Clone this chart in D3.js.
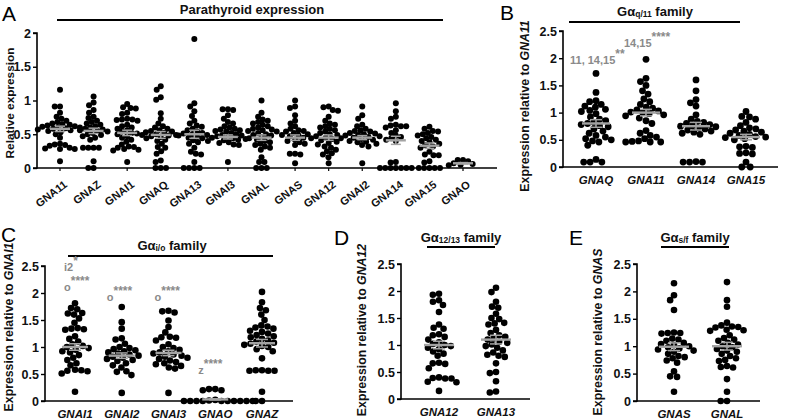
<!DOCTYPE html>
<html><head><meta charset="utf-8">
<script src="https://cdn.jsdelivr.net/npm/d3@7"></script>
<style>body{margin:0;background:#fff}svg{display:block}text{font-family:"Liberation Sans",Arial,sans-serif}</style>
</head><body><svg id="c" width="787" height="420"></svg>
<script>
// ---------------- DATA ----------------
const catsA = ["GNA11","GNAZ","GNAI1","GNAQ","GNA13","GNAI3","GNAL","GNAS","GNA12","GNAI2","GNA14","GNA15","GNAO"];
const valuesA = [
 [1.16,0.91,0.91,0.82,0.76,0.73,0.70,0.68,0.66,0.65,0.64,0.63,0.62,0.61,0.60,0.60,0.59,0.58,0.57,0.56,0.55,0.53,0.50,0.45,0.36,0.35,0.34,0.33,0.30,0.29,0.28,0.28,0.10],
 [1.06,0.97,0.93,0.86,0.82,0.76,0.74,0.70,0.68,0.66,0.64,0.62,0.60,0.58,0.57,0.56,0.55,0.54,0.52,0.50,0.49,0.47,0.45,0.42,0.30,0.30,0.30,0.30,0.10,0.0,0.0],
 [0.95,0.90,0.89,0.88,0.82,0.80,0.73,0.72,0.72,0.71,0.70,0.64,0.62,0.60,0.58,0.56,0.54,0.52,0.51,0.50,0.49,0.47,0.45,0.42,0.39,0.35,0.32,0.31,0.30,0.28,0.27,0.26,0.09],
 [1.21,1.16,1.05,1.01,0.81,0.73,0.66,0.62,0.60,0.58,0.56,0.55,0.54,0.53,0.52,0.50,0.49,0.48,0.47,0.46,0.44,0.42,0.40,0.36,0.31,0.30,0.25,0.21,0.11,0.09,0.0,0.0,0.0],
 [1.91,0.96,0.91,0.84,0.77,0.70,0.66,0.63,0.61,0.58,0.56,0.54,0.52,0.51,0.50,0.49,0.48,0.46,0.45,0.44,0.41,0.38,0.36,0.30,0.24,0.21,0.20,0.09,0.0,0.0,0.0,0.0],
 [0.87,0.87,0.86,0.78,0.73,0.68,0.66,0.62,0.60,0.58,0.57,0.56,0.55,0.54,0.52,0.50,0.49,0.48,0.47,0.46,0.45,0.44,0.43,0.42,0.41,0.40,0.38,0.37,0.35,0.34,0.09],
 [1.0,0.82,0.76,0.72,0.70,0.68,0.66,0.64,0.62,0.60,0.58,0.57,0.56,0.55,0.54,0.52,0.50,0.49,0.48,0.46,0.44,0.42,0.40,0.38,0.36,0.34,0.32,0.30,0.27,0.16,0.09,0.09,0.0,0.0,0.0],
 [1.0,0.91,0.89,0.78,0.70,0.66,0.62,0.58,0.56,0.55,0.54,0.52,0.50,0.49,0.48,0.47,0.45,0.44,0.42,0.40,0.38,0.36,0.34,0.21,0.21,0.20,0.07],
 [0.91,0.90,0.86,0.85,0.76,0.70,0.66,0.64,0.62,0.60,0.58,0.56,0.54,0.52,0.50,0.49,0.47,0.45,0.43,0.41,0.39,0.37,0.35,0.32,0.30,0.27,0.25,0.22,0.20,0.16,0.07],
 [0.91,0.78,0.73,0.64,0.62,0.58,0.56,0.55,0.54,0.52,0.51,0.50,0.49,0.48,0.47,0.46,0.45,0.44,0.43,0.42,0.40,0.39,0.38,0.36,0.34,0.32,0.07],
 [0.96,0.84,0.76,0.73,0.64,0.63,0.62,0.62,0.60,0.56,0.52,0.48,0.46,0.44,0.42,0.40,0.09,0.08,0.0,0.0,0.0,0.0,0.0,0.0,0.0],
 [0.61,0.58,0.55,0.54,0.52,0.50,0.48,0.46,0.44,0.42,0.40,0.38,0.36,0.34,0.32,0.30,0.24,0.20,0.19,0.19,0.10,0.08,0.0,0.0,0.0,0.0,0.0],
 [0.12,0.12,0.10,0.07,0.06,0.05,0.04]
];
const meansA = [0.58,0.55,0.52,0.49,0.50,0.46,0.45,0.45,0.45,0.45,0.41,0.33,0.07];
const semsA  = [0.04,0.04,0.04,0.05,0.06,0.03,0.04,0.04,0.04,0.03,0.06,0.04,0.01];
const ticksA = [0,0.5,1,1.5,2];

const catsB = ["GNAQ","GNA11","GNA14","GNA15"];
const valuesB = [
 [1.72,1.37,1.22,1.20,1.15,1.12,1.10,1.06,1.04,1.02,0.98,0.92,0.88,0.85,0.82,0.80,0.78,0.76,0.74,0.70,0.66,0.62,0.58,0.55,0.52,0.50,0.48,0.46,0.40,0.14,0.09,0.09,0.09],
 [1.98,1.63,1.57,1.50,1.40,1.34,1.25,1.20,1.15,1.10,1.08,1.05,1.03,1.01,1.00,0.98,0.96,0.94,0.90,0.85,0.80,0.67,0.62,0.58,0.55,0.52,0.48,0.47,0.46,0.46,0.46],
 [1.60,1.40,1.24,1.18,1.12,0.96,0.88,0.84,0.82,0.80,0.78,0.76,0.75,0.74,0.72,0.70,0.68,0.66,0.64,0.62,0.60,0.09,0.09,0.09,0.10],
 [1.02,0.93,0.92,0.88,0.82,0.76,0.72,0.70,0.68,0.66,0.64,0.62,0.60,0.58,0.56,0.55,0.54,0.52,0.50,0.38,0.37,0.36,0.26,0.25,0.24,0.09,0.0,0.0]
];
const meansB = [0.80,1.00,0.75,0.55];
const semsB  = [0.07,0.06,0.07,0.05];
const ticksBCDE = [0,0.5,1,1.5,2,2.5];
const annotB = [["11, 14,15","**"],["14,15","****"]];

const catsC = ["GNAI1","GNAI2","GNAI3","GNAO","GNAZ"];
const valuesC = [
 [1.81,1.72,1.70,1.63,1.62,1.60,1.53,1.45,1.35,1.34,1.33,1.32,1.20,1.15,1.10,1.05,1.02,1.00,0.98,0.95,0.92,0.90,0.85,0.80,0.76,0.70,0.66,0.58,0.57,0.56,0.55,0.51,0.17],
 [1.74,1.46,1.34,1.16,1.14,1.06,1.00,0.98,0.96,0.94,0.92,0.90,0.88,0.86,0.84,0.82,0.80,0.78,0.76,0.74,0.70,0.66,0.62,0.55,0.54,0.48,0.15],
 [1.67,1.66,1.64,1.49,1.37,1.27,1.19,1.18,1.17,1.12,1.05,1.00,0.98,0.95,0.92,0.90,0.88,0.86,0.84,0.82,0.80,0.78,0.75,0.72,0.70,0.68,0.65,0.62,0.60,0.15],
 [0.22,0.20,0.20,0.22,0.02,0.01,0.0,0.0,0.0,0.0,0.0,0.0,0.0,0.0,0.0,0.0],
 [2.02,1.83,1.72,1.68,1.60,1.50,1.40,1.38,1.36,1.34,1.30,1.28,1.25,1.22,1.20,1.18,1.15,1.12,1.10,1.08,1.06,1.04,1.02,1.00,0.96,0.92,0.79,0.57,0.57,0.56,0.56,0.56,0.17,0.0,0.0]
];
const meansC = [1.00,0.84,0.89,0.03,1.07];
const semsC  = [0.06,0.05,0.05,0.01,0.07];
const annotC = [["i2","*"],["o","****"],["o","****"],["o","****"],["z","****"]];

const catsD = ["GNA12","GNA13"];
const valuesD = [
 [1.95,1.93,1.83,1.80,1.74,1.61,1.38,1.32,1.30,1.20,1.18,1.15,1.10,1.05,1.02,1.00,0.98,0.95,0.92,0.88,0.84,0.80,0.67,0.66,0.65,0.57,0.40,0.39,0.38,0.38,0.32,0.31,0.15],
 [2.06,1.98,1.80,1.71,1.69,1.58,1.50,1.48,1.41,1.40,1.38,1.28,1.22,1.18,1.15,1.12,1.10,1.06,1.04,1.01,0.98,0.95,0.90,0.86,0.82,0.80,0.78,0.66,0.50,0.48,0.33,0.14,0.12]
];
const meansD = [1.00,1.10];
const semsD  = [0.07,0.08];

const catsE = ["GNAS","GNAL"];
const valuesE = [
 [2.15,1.93,1.84,1.66,1.25,1.24,1.24,1.23,1.14,1.12,1.10,1.06,1.04,1.02,1.00,0.98,0.96,0.94,0.92,0.90,0.86,0.82,0.80,0.78,0.74,0.70,0.54,0.45,0.44,0.17],
 [2.17,1.84,1.72,1.43,1.38,1.36,1.35,1.34,1.30,1.29,1.28,1.20,1.15,1.12,1.10,1.06,1.03,1.00,0.98,0.95,0.92,0.90,0.86,0.82,0.78,0.75,0.73,0.64,0.62,0.61,0.40,0.17,0.0,0.0]
];
const meansE = [0.99,1.00];
const semsE  = [0.07,0.07];

// ---------------- DRAWING ----------------
const svg = d3.select("#c");
const FONT = '"Liberation Sans", Arial, sans-serif';

function swarm(vals, y, cx, d) {
  const pts = vals.map(v => ({v, y: y(v)}));
  const order = pts.slice().sort((a, b) => a.y - b.y);
  const placed = [];
  for (const p of order) {
    const iv = [];
    for (const q of placed) {
      const dy = Math.abs(q.y - p.y);
      if (dy < d) { const w = Math.sqrt(d*d - dy*dy); iv.push([q.dx - w, q.dx + w]); }
    }
    const cands = [0];
    iv.forEach(([a, b]) => cands.push(a, b));
    cands.sort((a, b) => Math.abs(a) - Math.abs(b) || a - b);
    let dx = 0;
    for (const c of cands) { if (!iv.some(([a, b]) => c > a + 1e-6 && c < b - 1e-6)) { dx = c; break; } }
    p.dx = dx; placed.push(p);
  }
  return pts.map(p => ({x: cx + p.dx, y: p.y}));
}

function panel(cfg) {
  const g = svg.append("g");
  const y = d3.scaleLinear().domain([0, cfg.ymax]).range([cfg.y0, cfg.y1]);
  const x = d3.scalePoint().domain(cfg.cats).range(cfg.xr);
  // y axis
  const ya = d3.axisLeft(y).tickValues(cfg.ticks).tickFormat(d => String(d)).tickSize(4).tickPadding(2);
  const yg = g.append("g").attr("transform", `translate(${cfg.ax},0)`).call(ya);
  yg.attr("font-family", FONT);
  yg.select(".domain").attr("stroke", "#000").attr("stroke-width", 1.6).attr("d", `M-4,${cfg.y0}H0V${cfg.y1}H-4`);
  yg.selectAll(".tick line").attr("stroke", "#000").attr("stroke-width", 1.4);
  yg.selectAll(".tick text").attr("font-family", FONT).attr("font-weight", "bold").attr("font-size", 12.5).attr("fill", "#111");
  // x axis
  g.append("line").attr("x1", cfg.ax).attr("x2", cfg.axEnd).attr("y1", cfg.y0).attr("y2", cfg.y0)
    .attr("stroke", "#000").attr("stroke-width", 1.6);
  if (cfg.rotLabels) {
    cfg.cats.forEach(c => {
      g.append("line").attr("x1", x(c)).attr("x2", x(c)).attr("y1", cfg.y0).attr("y2", cfg.y0 + 3).attr("stroke", "#000").attr("stroke-width", 1.2);
      g.append("g").attr("transform", `translate(${x(c) + 8},${cfg.y0 + 18})`)
        .append("g").attr("transform", "rotate(-37)")
        .append("text").attr("x", 0).attr("y", 0)
        .attr("text-anchor", "end").attr("font-weight", "bold").attr("font-size", 11).attr("fill", "#111").text(c);
    });
  } else {
    cfg.cats.forEach(c => {
      g.append("text").attr("x", x(c)).attr("y", cfg.y0 + 17).attr("text-anchor", "middle")
        .attr("font-weight", "bold").attr("font-style", "italic").attr("font-size", 11.5).attr("fill", "#111").text(c);
    });
  }
  // dots
  cfg.cats.forEach((c, i) => {
    const pts = swarm(cfg.values[i], y, x(c), cfg.r * 2 * cfg.pack);
    g.append("g").selectAll("circle").data(pts).join("circle")
      .attr("cx", d => d.x).attr("cy", d => d.y).attr("r", cfg.r).attr("fill", "#000");
  });
  // mean + sem
  cfg.cats.forEach((c, i) => {
    const m = cfg.means[i], s = cfg.sems[i], cx = x(c);
    const mg = g.append("g").attr("stroke", "#a3a3a3");
    mg.append("line").attr("x1", cx - cfg.mw/2).attr("x2", cx + cfg.mw/2).attr("y1", y(m)).attr("y2", y(m)).attr("stroke-width", 2.4);
    mg.append("line").attr("x1", cx).attr("x2", cx).attr("y1", y(m + s)).attr("y2", y(Math.max(0, m - s))).attr("stroke-width", 1.5);
    [m + s, Math.max(0, m - s)].forEach(v => mg.append("line").attr("x1", cx - cfg.cw/2).attr("x2", cx + cfg.cw/2)
      .attr("y1", y(v)).attr("y2", y(v)).attr("stroke-width", 1.5));
  });
  // y title
  const yt = g.append("text").attr("transform", `translate(${cfg.ytX},${cfg.ytY}) rotate(-90)`)
    .attr("text-anchor", "middle").attr("font-weight", "bold").attr("font-size", cfg.ytSize || 12.3).attr("fill", "#111");
  yt.append("tspan").text(cfg.ytText);
  if (cfg.ytGene) yt.append("tspan").attr("font-style", "italic").text(cfg.ytGene);
  // title
  const tt = g.append("text").attr("x", cfg.tX).attr("y", cfg.tY).attr("text-anchor", "middle")
    .attr("font-weight", "bold").attr("font-size", 13).attr("fill", "#111");
  if (cfg.tSub) {
    tt.append("tspan").text("Gα");
    tt.append("tspan").attr("font-size", 8.5).attr("dy", 1).text(cfg.tSub);
    tt.append("tspan").attr("dy", -1).text(" family");
  } else tt.text(cfg.title);
  g.append("line").attr("x1", cfg.lx1).attr("x2", cfg.lx2).attr("y1", cfg.lY).attr("y2", cfg.lY).attr("stroke", "#000").attr("stroke-width", 2);
  // letter
  g.append("text").attr("x", cfg.L[0]).attr("y", cfg.L[1]).attr("font-size", 21).attr("fill", "#000").text(cfg.letter);
  // annotations
  (cfg.annots || []).forEach((a, i) => {
    const p = cfg.annotPos[i];
    const t = g.append("text").attr("x", x(cfg.cats[p[0]]) + p[1]).attr("y", p[2])
      .attr("font-weight", "bold").attr("font-size", 11).attr("fill", "#8a8a8a");
    t.append("tspan").text(a[0]);
    t.append("tspan").attr("dy", -6).attr("font-size", 12).text(a[1]);
  });
}

panel({cats: catsA, values: valuesA, means: meansA, sems: semsA, ticks: ticksA, ymax: 2,
  y0: 168, y1: 33, ax: 37, axEnd: 497, xr: [60, 463], rotLabels: true, r: 3, pack: 0.88, mw: 20, cw: 10,
  ytText: "Relative expression", ytX: 14, ytY: 103, ytSize: 11.8,
  title: "Parathyroid expression", tX: 252, tY: 14, lx1: 57, lx2: 443, lY: 20, letter: "A", L: [2, 21]});

panel({cats: catsB, values: valuesB, means: meansB, sems: semsB, ticks: ticksBCDE, ymax: 2.5,
  y0: 167, y1: 31, ax: 563, axEnd: 778, xr: [596, 746], r: 3.4, pack: 0.95, mw: 28, cw: 12,
  ytText: "Expression relative to ", ytGene: "GNA11", ytX: 529, ytY: 106,
  tSub: "q/11", tX: 655, tY: 16, lx1: 569, lx2: 740, lY: 22, letter: "B", L: [500, 20],
  annots: annotB, annotPos: [[0, -26, 64], [1, -22, 47]]});

panel({cats: catsC, values: valuesC, means: meansC, sems: semsC, ticks: ticksBCDE, ymax: 2.5,
  y0: 401, y1: 266, ax: 45, axEnd: 293, xr: [75, 262], r: 3.3, pack: 0.95, mw: 26, cw: 12,
  ytText: "Expression relative to ", ytGene: "GNAI1", ytX: 12.5, ytY: 327,
  tSub: "i/o", tX: 172, tY: 250, lx1: 68, lx2: 273, lY: 256, letter: "C", L: [1, 242],
  annots: annotC, annotPos: [[0, -11, 271], [0, -11, 291], [1, -15, 301], [2, -14, 301], [3, -17, 374]]});

panel({cats: catsD, values: valuesD, means: meansD, sems: semsD, ticks: ticksBCDE, ymax: 2.5,
  y0: 399, y1: 264, ax: 401, axEnd: 530, xr: [439, 496], r: 3.3, pack: 0.95, mw: 30, cw: 12,
  ytText: "Expression relative to ", ytGene: "GNA12", ytX: 366, ytY: 330,
  tSub: "12/13", tX: 461, tY: 242, lx1: 427, lx2: 495, lY: 247, letter: "D", L: [334, 245]});

panel({cats: catsE, values: valuesE, means: meansE, sems: semsE, ticks: ticksBCDE, ymax: 2.5,
  y0: 401, y1: 264, ax: 637, axEnd: 760, xr: [674, 727], r: 3.3, pack: 0.95, mw: 30, cw: 12,
  ytText: "Expression relative to ", ytGene: "GNAS", ytX: 602, ytY: 332,
  tSub: "s/f", tX: 695, tY: 242, lx1: 661, lx2: 729, lY: 247, letter: "E", L: [569, 245]});
</script></body></html>
